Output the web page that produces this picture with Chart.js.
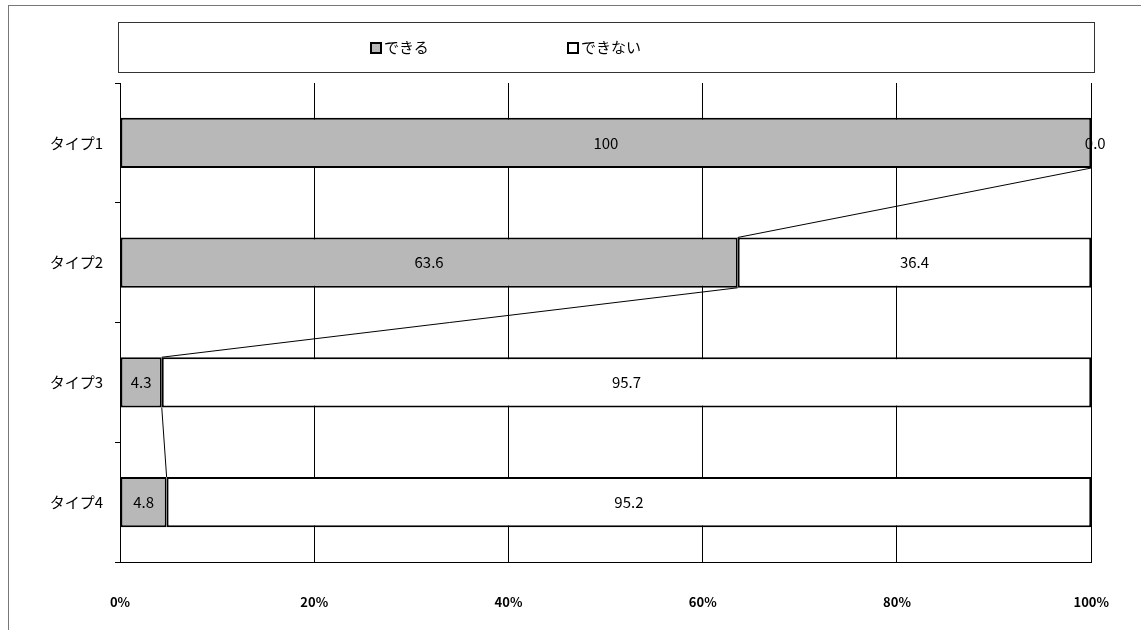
<!DOCTYPE html>
<html>
<head>
<meta charset="utf-8">
<script src="https://cdn.jsdelivr.net/npm/chart.js@4"></script>
<style>
  body { margin: 0; background: #fff; }
  #wrap { position: relative; width: 1141px; height: 630px; }
  #frame { position: absolute; left: 8px; top: 5px; width: 1140px; height: 640px; border: 1px solid #777; }
  #legend { position: absolute; left: 118px; top: 22px; width: 975px; height: 49px; border: 1px solid #333;
    font-family: "Noto Sans CJK JP", sans-serif; font-size: 15px; }
  .item { position: absolute; top: 13px; }
  .sw { display: inline-block; width: 8px; height: 8px; border: 2px solid #000; margin-right: 2px; vertical-align: -1px; }
</style>
</head>
<body>
<div id="wrap">
  <div id="frame"></div>
  <canvas id="chart" width="1141" height="630"></canvas>
  <div id="legend">
    <span class="item" style="left:251px"><span class="sw" style="background:#b8b8b8"></span>できる</span>
    <span class="item" style="left:448px"><span class="sw" style="background:#fff"></span>できない</span>
  </div>
</div>
<script>
// データ
var categorias = ["タイプ1", "タイプ2", "タイプ3", "タイプ4"];
var dekiru = [100, 63.6, 4.3, 4.8];
var dekinai = [0.0, 36.4, 95.7, 95.2];
var ticksX = ["0%", "20%", "40%", "60%", "80%", "100%"];

var fonte = '"Noto Sans CJK JP", sans-serif';

// Linhas de série entre as barras + rótulos
var extras = {
  id: "extras",
  afterDatasetsDraw: function (chart) {
    var ctx = chart.ctx;
    var meta0 = chart.getDatasetMeta(0);
    ctx.save();
    ctx.strokeStyle = "#000";
    ctx.lineWidth = 1;
    for (var i = 0; i < meta0.data.length - 1; i++) {
      var a = meta0.data[i], b = meta0.data[i + 1];
      ctx.beginPath();
      ctx.moveTo(a.x, a.y + a.height / 2);
      ctx.lineTo(b.x, b.y - b.height / 2);
      ctx.stroke();
    }
    ctx.font = "15px " + fonte;
    ctx.fillStyle = "#000";
    ctx.textAlign = "center";
    ctx.textBaseline = "middle";
    [dekiru, dekinai].forEach(function (serie, d) {
      chart.getDatasetMeta(d).data.forEach(function (bar, i) {
        var x = (bar.x + bar.base) / 2;
        if (serie[i] === 0) x = bar.x + 4;
        ctx.fillText(serie[i].toFixed(serie[i] === 100 ? 0 : 1), x, bar.y);
      });
    });
    ctx.restore();
  },
};

new Chart(document.getElementById("chart"), {
  type: "bar",
  data: {
    labels: categorias,
    datasets: [
      { label: "できる", data: dekiru, backgroundColor: "#b8b8b8", borderColor: "#000", borderWidth: 2,
        borderSkipped: false, categoryPercentage: 1, barPercentage: 0.42 },
      { label: "できない", data: dekinai, backgroundColor: "#fff", borderColor: "#000", borderWidth: 2,
        borderSkipped: false, categoryPercentage: 1, barPercentage: 0.42 },
    ],
  },
  options: {
    indexAxis: "y",
    responsive: false,
    animation: false,
    layout: { padding: { top: 83, right: 48, bottom: 5, left: 8 } },
    plugins: { legend: { display: false }, tooltip: { enabled: false } },
    scales: {
      x: {
        stacked: true, min: 0, max: 100,
        ticks: { stepSize: 20, callback: function (v, i) { return ticksX[i]; },
          font: { family: fonte, size: 13, weight: "bold" }, color: "#000", padding: 32 },
        grid: { color: "#000", lineWidth: 1, drawTicks: false },
        border: { color: "#000" },
        afterFit: function (s) { s.height = 63; },
      },
      y: {
        stacked: true,
        ticks: { font: { family: fonte, size: 15 }, color: "#000", padding: 12 },
        grid: { offset: true, drawOnChartArea: false, tickLength: 5, color: "#000" },
        border: { color: "#000" },
        afterFit: function (s) { s.width = 112; },
      },
    },
  },
  plugins: [extras],
});
</script>
</body>
</html>
